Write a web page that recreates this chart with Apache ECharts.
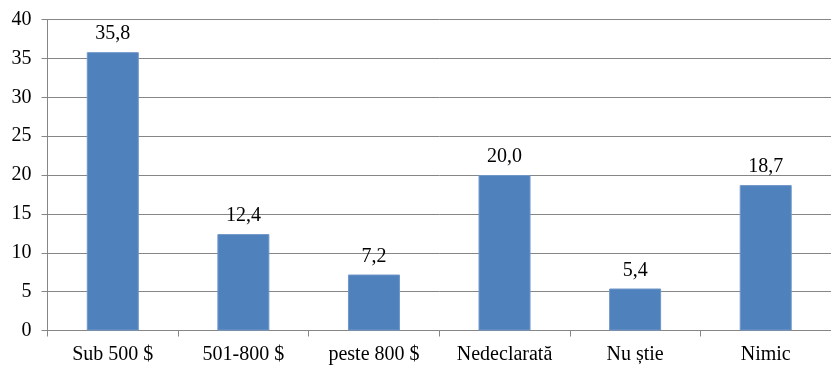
<!DOCTYPE html>
<html><head><meta charset="utf-8">
<script src="https://cdn.jsdelivr.net/npm/echarts@6/dist/echarts.min.js"></script>
<style>html,body{margin:0;padding:0;background:#fff}#c{width:831px;height:366px}</style>
</head><body><div id="c"></div>
<script>
const categories = ['Sub 500 $', '501-800 $', 'peste 800 $', 'Nedeclarată', 'Nu știe', 'Nimic'];
const values = [35.8, 12.4, 7.2, 20.0, 5.4, 18.7];
const yTicks = [0, 5, 10, 15, 20, 25, 30, 35, 40];

const font = '"Liberation Serif", "Times New Roman", serif';
const chart = echarts.init(document.getElementById('c'), null, {renderer: 'canvas'});
chart.setOption({
  animation: false,
  grid: {left: 47.5, top: 19.5, width: 792, height: 311, containLabel: false},
  xAxis: {
    type: 'category', data: categories,
    axisLine: {lineStyle: {color: '#868686', width: 1}},
    axisTick: {show: true, length: 6, inside: false, lineStyle: {color: '#868686'}},
    axisLabel: {color: '#000', fontFamily: font, fontSize: 20, margin: 14}
  },
  yAxis: {
    type: 'value', min: yTicks[0], max: yTicks[yTicks.length - 1], interval: 5,
    axisLine: {show: true, lineStyle: {color: '#868686', width: 1}},
    axisTick: {show: true, length: 6, lineStyle: {color: '#868686'}},
    splitLine: {lineStyle: {color: '#868686', width: 1}},
    axisLabel: {color: '#000', fontFamily: font, fontSize: 20, margin: 16}
  },
  series: [{
    type: 'bar', data: values, barWidth: 52,
    itemStyle: {color: '#4F81BD', borderColor: '#6F97C9', borderWidth: 1},
    label: {
      show: true, position: 'top', distance: 8, color: '#000',
      fontFamily: font, fontSize: 20,
      formatter: p => p.value.toFixed(1).replace('.', ',')
    }
  }]
});
</script></body></html>
